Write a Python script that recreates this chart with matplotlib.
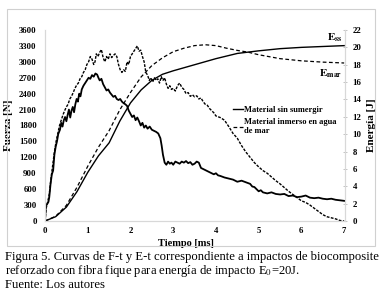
import matplotlib
matplotlib.use("Agg")
import matplotlib.pyplot as plt
from matplotlib.patches import Rectangle

# ── data ──────────────────────────────────────────────────────────────────────
t_force_dry = [0, 0.02, 0.05, 0.08, 0.1, 0.13, 0.16, 0.19, 0.22, 0.25, 0.28, 0.31,
               0.35, 0.38, 0.41, 0.44, 0.47, 0.5, 0.53, 0.56, 0.59, 0.62, 0.65,
               0.68, 0.71, 0.74, 0.77, 0.8, 0.83, 0.86, 0.9, 0.94, 0.98, 1.02,
               1.06, 1.1, 1.14, 1.18, 1.22, 1.25, 1.28, 1.32, 1.36, 1.4, 1.44,
               1.48, 1.52, 1.56, 1.6, 1.64, 1.68, 1.72, 1.76, 1.8, 1.84, 1.88,
               1.92, 1.96, 2.0, 2.04, 2.08, 2.12, 2.16, 2.2, 2.24, 2.28, 2.32,
               2.36, 2.4, 2.45, 2.5, 2.55, 2.6, 2.65, 2.7, 2.73, 2.76, 2.8, 2.84,
               2.88, 2.92, 2.96, 3.0, 3.05, 3.1, 3.15, 3.2, 3.25, 3.3, 3.35, 3.4,
               3.45, 3.5, 3.55, 3.6, 3.65, 3.7, 3.75, 3.8, 3.85, 3.9, 3.95, 4.0,
               4.05, 4.1, 4.2, 4.3, 4.4, 4.5, 4.6, 4.7, 4.8, 4.85, 4.9, 4.95,
               5.0, 5.05, 5.1, 5.2, 5.3, 5.4, 5.5, 5.6, 5.7, 5.8, 5.9, 6.0, 6.1,
               6.2, 6.3, 6.4, 6.5, 6.6, 6.7, 6.8, 6.9, 7.0]
force_dry = [0, 280, 320, 360, 450, 700, 880, 950, 1250, 1400, 1500, 1640,
             1720, 1850, 1780, 1900, 1960, 1880, 2000, 2100, 1950, 2080, 2150,
             2050, 2200, 2300, 2250, 2400, 2350, 2480, 2550, 2600, 2650, 2700,
             2680, 2750, 2720, 2780, 2760, 2700, 2650, 2680, 2580, 2520, 2460,
             2480, 2420, 2380, 2340, 2360, 2300, 2280, 2300, 2250, 2220, 2200,
             2170, 2080, 2020, 1960, 1990, 1900, 1950, 1880, 1800, 1850, 1760,
             1800, 1740, 1780, 1720, 1700, 1680, 1650, 1560, 1420, 1250, 1100, 1060,
             1120, 1080, 1100, 1060, 1120, 1100, 1080, 1120, 1100, 1130, 1090, 1110,
             1060, 1080, 1120, 1100, 1000, 980, 960, 940, 920, 900, 880, 900,
             860, 850, 820, 800, 780, 740, 760, 730, 700, 650, 640, 600,
             560, 580, 540, 520, 540, 510, 500, 510, 470, 480, 450, 460, 480,
             440, 430, 440, 420, 410, 420, 400, 390, 380]

t_force_sea = [0, 0.03, 0.06, 0.1, 0.14, 0.18, 0.22, 0.26, 0.3, 0.34, 0.38, 0.42,
               0.46, 0.5, 0.54, 0.58, 0.62, 0.66, 0.7, 0.74, 0.78, 0.82, 0.86,
               0.9, 0.94, 0.98, 1.02, 1.06, 1.1, 1.14, 1.17, 1.2, 1.24, 1.28,
               1.32, 1.36, 1.4, 1.44, 1.48, 1.52, 1.56, 1.6, 1.64, 1.68, 1.72,
               1.76, 1.8, 1.84, 1.88, 1.92, 1.96, 2.0, 2.04, 2.08, 2.12, 2.16,
               2.2, 2.24, 2.28, 2.32, 2.36, 2.4, 2.44, 2.48, 2.52, 2.56, 2.6,
               2.64, 2.68, 2.72, 2.76, 2.8, 2.84, 2.88, 2.92, 2.96, 3.0, 3.05,
               3.1, 3.15, 3.2, 3.25, 3.3, 3.35, 3.4, 3.45, 3.5, 3.55, 3.6, 3.65,
               3.7, 3.75, 3.8, 3.85, 3.9, 3.95, 4.0, 4.1, 4.2, 4.3, 4.4, 4.5,
               4.6, 4.7, 4.8, 4.9, 5.0, 5.1, 5.2, 5.3, 5.4, 5.5, 5.6, 5.7, 5.8,
               5.9, 6.0, 6.1, 6.2, 6.3, 6.4, 6.5, 6.6, 6.7, 6.8, 6.9, 7.0]
force_sea = [0, 250, 350, 500, 800, 1050, 1300, 1500, 1650, 1800, 1900, 2000,
             2080, 2150, 2200, 2300, 2350, 2420, 2500, 2560, 2600, 2680, 2720,
             2800, 2850, 2950, 3000, 3100, 3050, 2950, 3000, 3150, 3100, 3180,
             3230, 3080, 3000, 3100, 3050, 3150, 3080, 3120, 3150, 3100, 2950,
             2850, 2800, 2850, 2820, 3000, 2950, 3100, 3150, 3200, 3250, 3300,
             3200, 3220, 3100, 3000, 2800, 2750, 2650, 2700, 2620, 2700, 2650,
             2680, 2600, 2720, 2650, 2700, 2580, 2500, 2550, 2480, 2500, 2450,
             2550, 2600, 2520, 2480, 2400, 2420, 2350, 2380, 2340, 2360, 2300, 2320,
             2250, 2200, 2180, 2120, 2080, 2040, 1980, 1950, 1900, 1780, 1650, 1560,
             1420, 1300, 1200, 1100, 1020, 950, 900, 830, 760, 700, 630, 560, 500,
             440, 380, 350, 300, 240, 180, 120, 80, 60, 40, 10, 0]

t_energy = [0, 0.25, 0.5, 0.75, 1.0, 1.25, 1.5, 1.75, 2.0, 2.25, 2.5, 2.75, 3.0,
            3.25, 3.5, 3.75, 4.0, 4.25, 4.5, 4.75, 5.0, 5.5, 6.0, 6.5, 7.0]
energy_dry = [0, 0.5, 1.6, 3.4, 5.6, 7.5, 9.0, 11.5, 13.6, 15.1, 16.2, 16.9, 17.3,
              17.65, 18.0, 18.35, 18.7, 19.0, 19.3, 19.45, 19.6, 19.85, 20.0, 20.1, 20.2]
energy_sea = [0, 0.55, 1.8, 3.9, 6.3, 8.5, 10.4, 12.8, 14.8, 16.6, 17.9, 18.8, 19.5,
              19.9, 20.2, 20.3, 20.2, 19.9, 19.65, 19.45, 19.15, 18.7, 18.45, 18.3, 18.2]

force_ticks = list(range(0, 3601, 300))
energy_ticks = list(range(0, 23, 2))
time_ticks = list(range(0, 8))

SERIF = "Liberation Serif"
plt.rcParams["font.family"] = SERIF
plt.rcParams["mathtext.fontset"] = "stix"

fig = plt.figure(figsize=(3.83, 2.97), dpi=100)
fig.patches.append(Rectangle((7 / 383, 1 - 246 / 297), 368 / 383, 237 / 297,
                             transform=fig.transFigure, fill=False,
                             edgecolor="#d0d0d0", linewidth=0.8))

ax = fig.add_axes([45 / 383, 1 - 221 / 297, 300 / 383, 191 / 297])
ax2 = ax.twinx()

# ── force curves (left axis) ─────────────────────────────────────────────────
ax.plot(t_force_dry, force_dry, color="black", linewidth=1.3)
ax.plot(t_force_sea, force_sea, color="black", linewidth=1.0, linestyle=(0, (2, 1)))

# ── energy curves (right axis) ───────────────────────────────────────────────
ax2.plot(t_energy, energy_dry, color="black", linewidth=1.0,
         label="Material sin sumergir")
ax2.plot(t_energy, energy_sea, color="black", linewidth=0.9, linestyle=(0, (3, 2)),
         label="Material inmerso en agua\nde mar")

ax.set_xlim(0, 7.02)
ax.set_ylim(0, 3600)
ax2.set_ylim(0, 22)
ax.set_xticks(time_ticks)
ax.set_yticks(force_ticks)
ax2.set_yticks(energy_ticks)

tick_font = dict(fontsize=6.3, fontweight="bold")
ax.set_xticklabels([str(v) for v in time_ticks], **tick_font)
ax.set_yticklabels([str(v) for v in force_ticks], **tick_font)
ax2.set_yticklabels([str(v) for v in energy_ticks], **tick_font)
ax.tick_params(axis="y", length=0, pad=6)
ax.tick_params(axis="x", length=0, pad=4)
ax2.tick_params(axis="y", length=3, width=0.6, color="#bbbbbb", direction="inout", pad=4)

for a in (ax, ax2):
    a.spines["top"].set_visible(False)
    for s in ("left", "right", "bottom"):
        a.spines[s].set_color("#d8d8d8")
        a.spines[s].set_linewidth(0.8)

ax.set_xlabel("Tiempo [ms]", fontsize=7.5, fontweight="bold", labelpad=2)
ax.xaxis.set_label_coords(0.47, -0.095)
ax.set_ylabel("Fuerza [N]", fontsize=8, fontweight="bold", labelpad=1)
ax.yaxis.set_label_coords(-0.105, 0.5)
ax2.set_ylabel("Energía [J]", fontsize=8, fontweight="bold", labelpad=4)

ax2.text(6.95, 20.4, r"$\mathbf{E}_{\mathbf{ss}}$", fontsize=8, ha="right", va="bottom")
ax2.text(6.95, 17.7, r"$\mathbf{E}_{\mathbf{mar}}$", fontsize=8, ha="right", va="top")

leg = ax2.legend(loc="upper left", bbox_to_anchor=(0.617, 0.62), frameon=False,
                 prop=dict(family=SERIF, size=6, weight="bold"),
                 handlelength=1.2, handletextpad=0.1, labelspacing=0.5,
                 borderaxespad=0)

# ── caption ──────────────────────────────────────────────────────────────────
cap = dict(fontsize=9.1, ha="left", va="center")
fig.text(5 / 383, 1 - 257 / 297,
         "Figura 5. Curvas de F-t y E-t correspondiente a impactos de biocomposite", **cap)
fig.text(5 / 383, 1 - 271 / 297,
         "reforzado con fibra fique para energía de impacto E$_0$=20J.", **cap)
fig.text(5 / 383, 1 - 285 / 297, "Fuente: Los autores", **cap)

fig.savefig("out.png", dpi=100, facecolor="white")
